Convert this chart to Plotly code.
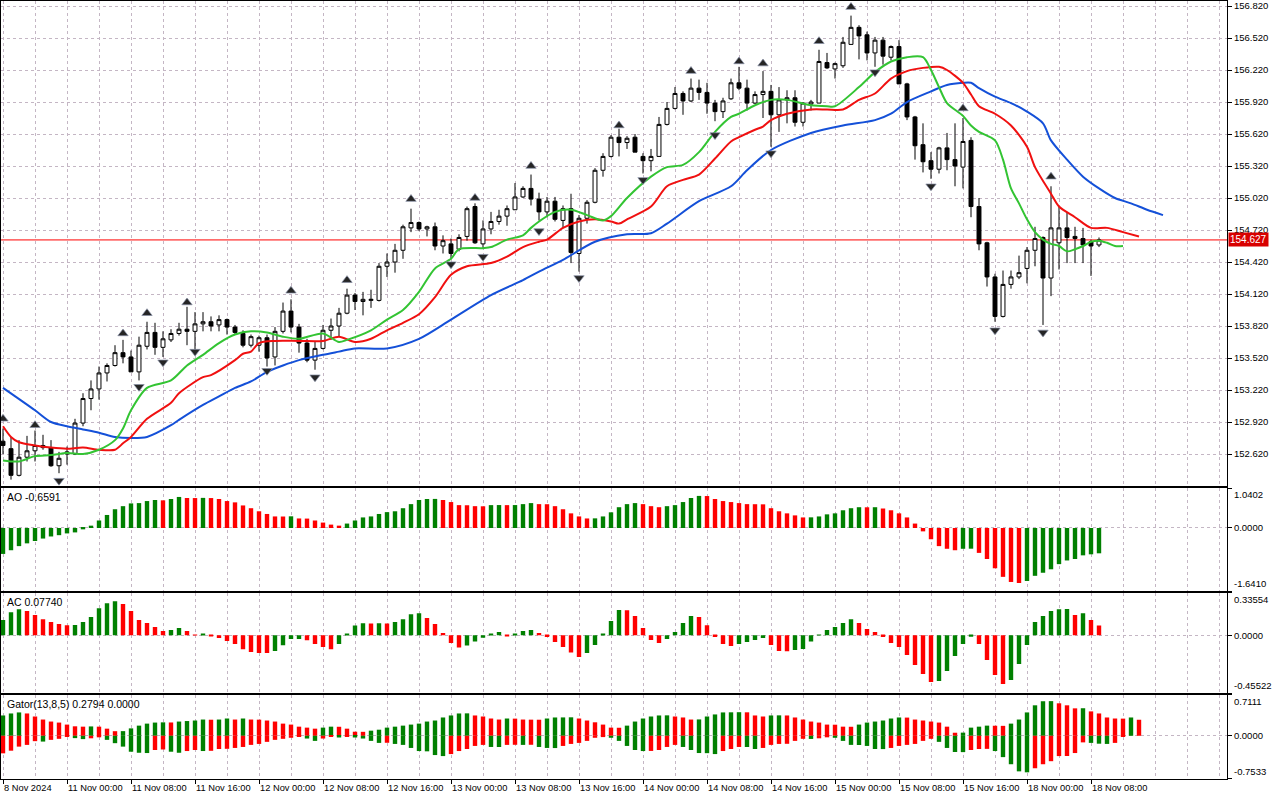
import plotly.graph_objects as go

# USDJPY-like H1 chart, 8 Nov 2024 16:00 .. 18 Nov 2024 09:00 (bar index 0..137)
open_ = [152.74, 152.67, 152.42, 152.59, 152.65, 152.68, 152.68, 152.51, 152.62, 152.62,
         152.91, 153.14, 153.23, 153.38, 153.45, 153.57, 153.53, 153.39, 153.63, 153.76,
         153.62, 153.69, 153.75, 153.79, 153.77, 153.84, 153.86, 153.83, 153.88, 153.81,
         153.75, 153.64, 153.64, 153.71, 153.53, 153.77, 153.96, 153.81, 153.66, 153.50,
         153.61, 153.78, 153.82, 153.94, 154.11, 154.05, 154.06, 154.06, 154.38, 154.42,
         154.53, 154.74, 154.79, 154.73, 154.75, 154.57, 154.59, 154.54, 154.66, 154.94,
         154.59, 154.73, 154.80, 154.85, 154.91, 155.03, 155.11, 155.01, 154.89, 154.99,
         154.81, 154.92, 154.50, 154.83, 154.98, 155.28, 155.41, 155.59, 155.54, 155.59,
         155.41, 155.37, 155.41, 155.71, 155.86, 156.00, 155.93, 156.05, 156.01, 155.91,
         155.83, 155.95, 156.10, 156.05, 155.91, 155.99, 156.02, 155.80, 155.94, 155.96,
         155.73, 155.90, 155.91, 156.29, 156.23, 156.26, 156.46, 156.62, 156.55, 156.38,
         156.50, 156.34, 156.44, 156.09, 155.78, 155.52, 155.37, 155.29, 155.49, 155.38,
         155.31, 155.56, 154.94, 154.60, 154.28, 153.91, 154.21, 154.28, 154.36, 154.53,
         154.65, 154.27, 154.60, 154.74, 154.66, 154.64, 154.61, 154.58]
high = [152.86, 152.78, 152.75, 152.79, 152.84, 152.80, 152.75, 152.64, 152.69, 152.95,
        153.19, 153.31, 153.44, 153.47, 153.64, 153.69, 153.59, 153.72, 153.86, 153.85,
        153.77, 153.79, 153.85, 154.00, 153.95, 153.95, 153.91, 153.92, 153.89, 153.83,
        153.78, 153.74, 153.73, 153.74, 153.81, 154.04, 154.07, 153.84, 153.70, 153.68,
        153.83, 153.89, 153.99, 154.17, 154.13, 154.14, 154.16, 154.41, 154.50, 154.59,
        154.77, 154.92, 154.80, 154.76, 154.79, 154.67, 154.64, 154.68, 154.94, 154.97,
        154.81, 154.89, 154.91, 154.95, 155.16, 155.13, 155.24, 155.07, 155.03, 155.03,
        154.95, 155.06, 154.86, 155.00, 155.30, 155.44, 155.61, 155.67, 155.60, 155.62,
        155.44, 155.48, 155.78, 155.92, 156.06, 156.02, 156.14, 156.13, 156.10, 155.94,
        155.96, 156.14, 156.25, 156.13, 156.02, 156.21, 156.08, 156.06, 156.03, 156.03,
        155.92, 155.94, 156.41, 156.38, 156.29, 156.53, 156.73, 156.64, 156.58, 156.53,
        156.53, 156.45, 156.50, 156.10, 155.79, 155.72, 155.45, 155.50, 155.63, 155.72,
        155.77, 155.59, 155.02, 154.61, 154.31, 154.34, 154.34, 154.48, 154.56, 154.75,
        154.66, 155.13, 154.94, 154.89, 154.75, 154.74, 154.63, 154.65]
low = [152.62, 152.38, 152.41, 152.55, 152.55, 152.66, 152.50, 152.44, 152.52, 152.61,
       152.88, 153.03, 153.13, 153.30, 153.44, 153.47, 153.39, 153.31, 153.60, 153.55,
       153.53, 153.67, 153.73, 153.64, 153.60, 153.77, 153.77, 153.77, 153.74, 153.74,
       153.62, 153.62, 153.58, 153.44, 153.45, 153.75, 153.76, 153.57, 153.48, 153.41,
       153.60, 153.69, 153.72, 153.93, 153.97, 153.92, 153.99, 154.05, 154.28, 154.32,
       154.45, 154.70, 154.71, 154.66, 154.53, 154.50, 154.45, 154.52, 154.62, 154.59,
       154.55, 154.68, 154.77, 154.76, 154.91, 155.02, 154.95, 154.81, 154.84, 154.80,
       154.74, 154.41, 154.33, 154.78, 154.97, 155.22, 155.40, 155.41, 155.48, 155.45,
       155.25, 155.27, 155.41, 155.70, 155.85, 155.80, 155.92, 155.94, 155.81, 155.74,
       155.77, 155.94, 156.03, 155.84, 155.90, 155.77, 155.50, 155.64, 155.72, 155.69,
       155.69, 155.84, 155.91, 156.23, 156.14, 156.24, 156.46, 156.32, 156.31, 156.25,
       156.27, 156.31, 156.09, 155.75, 155.38, 155.26, 155.20, 155.25, 155.28, 155.13,
       155.11, 154.84, 154.53, 154.19, 153.86, 153.90, 154.17, 154.26, 154.22, 154.38,
       153.83, 154.10, 154.35, 154.41, 154.41, 154.41, 154.29, 154.56]
close = [152.70, 152.42, 152.59, 152.65, 152.70, 152.70, 152.51, 152.58, 152.64, 152.91,
         153.14, 153.23, 153.38, 153.45, 153.57, 153.53, 153.39, 153.64, 153.76, 153.62,
         153.70, 153.75, 153.79, 153.77, 153.84, 153.86, 153.82, 153.88, 153.81, 153.76,
         153.64, 153.72, 153.71, 153.52, 153.77, 153.96, 153.81, 153.66, 153.50, 153.61,
         153.78, 153.82, 153.94, 154.11, 154.05, 154.07, 154.07, 154.38, 154.42, 154.53,
         154.75, 154.79, 154.73, 154.75, 154.57, 154.62, 154.50, 154.65, 154.92, 154.60,
         154.73, 154.80, 154.85, 154.92, 155.03, 155.11, 155.01, 154.89, 154.99, 154.82,
         154.92, 154.51, 154.83, 154.98, 155.28, 155.41, 155.59, 155.54, 155.58, 155.45,
         155.37, 155.41, 155.71, 155.86, 156.00, 155.93, 156.05, 156.01, 155.91, 155.83,
         155.93, 156.10, 156.05, 155.91, 155.99, 156.02, 155.80, 155.94, 155.96, 155.73,
         155.91, 155.92, 156.30, 156.24, 156.28, 156.48, 156.62, 156.54, 156.38, 156.50,
         156.35, 156.44, 156.09, 155.78, 155.51, 155.36, 155.29, 155.49, 155.38, 155.32,
         155.55, 154.94, 154.59, 154.28, 153.91, 154.21, 154.28, 154.32, 154.53, 154.64,
         154.27, 154.74, 154.74, 154.65, 154.64, 154.58, 154.57, 154.627]

# Alligator (13,8,5): jaws / teeth / lips, already shifted forward
jaw_x = [0, 4, 6, 8, 10, 12, 14, 16, 18, 21, 22, 25, 27, 29, 31, 33, 35, 37, 40, 42,
         44, 48, 52, 56, 61, 65, 67, 70, 74, 78, 81, 83, 87, 91, 93, 96, 101, 105, 109, 111,
         113, 116, 118, 120, 121, 122, 124, 126, 128, 130, 131, 133, 135, 137, 139, 141, 143, 145]
jaw = [153.24, 153.03, 152.92, 152.88, 152.85, 152.82, 152.78, 152.77, 152.78, 152.89,
       152.94, 153.08, 153.16, 153.24, 153.30, 153.39, 153.45, 153.50, 153.55, 153.58,
       153.61, 153.61, 153.70, 153.88, 154.11, 154.25, 154.33, 154.44, 154.61, 154.68,
       154.69, 154.78, 154.99, 155.13, 155.28, 155.47, 155.63, 155.70, 155.75, 155.81,
       155.92, 156.02, 156.08, 156.10, 156.10, 156.05, 155.97, 155.91, 155.83, 155.72,
       155.56, 155.38, 155.22, 155.11, 155.02, 154.97, 154.91, 154.86]
teeth_x = [0, 1, 2, 4, 6, 8, 10, 12, 14, 15, 16, 18, 21, 22, 25, 26, 29, 30, 31, 32,
           34, 37, 40, 42, 44, 46, 48, 50, 52, 54, 56, 58, 61, 63, 65, 67, 68, 70, 72, 74,
           76, 77, 78, 81, 83, 85, 87, 89, 91, 92, 94, 95, 96, 98, 101, 103, 105, 107, 109, 111,
           113, 115, 117, 118, 120, 121, 122, 124, 126, 128, 129, 131, 132, 134, 136, 138, 140, 142]
teeth = [152.88, 152.78, 152.73, 152.70, 152.68, 152.67, 152.68, 152.66, 152.66, 152.72,
         152.78, 152.95, 153.10, 153.19, 153.34, 153.36, 153.50, 153.56, 153.58, 153.66,
         153.68, 153.68, 153.68, 153.72, 153.67, 153.70, 153.78, 153.85, 153.93, 154.09,
         154.30, 154.38, 154.41, 154.47, 154.56, 154.61, 154.63, 154.74, 154.80, 154.82,
         154.80, 154.78, 154.82, 154.94, 155.13, 155.19, 155.24, 155.39, 155.55, 155.59,
         155.66, 155.69, 155.75, 155.81, 155.85, 155.85, 155.85, 155.94, 156.00, 156.14,
         156.21, 156.24, 156.25, 156.22, 156.10, 155.99, 155.88, 155.81, 155.70, 155.50,
         155.31, 155.06, 154.94, 154.84, 154.74, 154.74, 154.70, 154.66]
lips_x = [0, 2, 4, 6, 8, 10, 12, 14, 15, 16, 18, 21, 23, 25, 27, 29, 31, 33, 35, 37,
          40, 42, 43, 46, 48, 50, 52, 54, 56, 57, 60, 61, 63, 65, 66, 67, 69, 71, 73, 75,
          76, 78, 81, 83, 85, 87, 89, 91, 92, 94, 96, 98, 101, 103, 104, 107, 109, 111, 113, 115,
          116, 117, 118, 120, 121, 122, 124, 125, 126, 127, 128, 129, 130, 131, 132, 133, 134, 135,
          136, 137, 138, 139, 140]
lips = [152.56, 152.55, 152.60, 152.61, 152.63, 152.62, 152.66, 152.75, 152.86, 153.03,
        153.24, 153.31, 153.45, 153.55, 153.66, 153.74, 153.77, 153.76, 153.72, 153.70,
        153.75, 153.67, 153.69, 153.78, 153.88, 153.97, 154.14, 154.36, 154.45, 154.54,
        154.55, 154.56, 154.63, 154.67, 154.74, 154.80, 154.89, 154.91, 154.86, 154.81,
        154.85, 155.02, 155.22, 155.31, 155.33, 155.45, 155.64, 155.78, 155.81, 155.89,
        155.94, 155.94, 155.89, 155.88, 155.88, 156.06, 156.20, 156.30, 156.34, 156.34,
        156.22, 156.06, 155.91, 155.79, 155.70, 155.64, 155.56, 155.38, 155.11, 154.97,
        154.82, 154.70, 154.63, 154.59, 154.57, 154.52, 154.54, 154.57, 154.61, 154.62,
        154.60, 154.57, 154.57]

# Bill Williams fractals (arrow levels)
frac_up_x = [0, 4, 15, 18, 23, 36, 43, 51, 59, 66, 77, 86, 92, 95, 102, 106, 120, 131]
frac_up_y = [152.95, 152.89, 153.75, 153.94, 154.04, 154.15, 154.25, 155.01, 155.02, 155.32,
             155.70, 156.21, 156.30, 156.28, 156.49, 156.81, 155.86, 155.22]
frac_dn_x = [7, 17, 20, 24, 33, 39, 56, 60, 67, 72, 80, 89, 96, 109, 116, 124, 130]
frac_dn_y = [152.37, 153.25, 153.48, 153.58, 153.40, 153.34, 154.40, 154.47, 154.71, 154.27,
             155.19, 155.61, 155.44, 156.20, 155.13, 153.78, 153.76]

# Awesome Oscillator
ao = [-0.675, -0.579, -0.472, -0.400, -0.339, -0.275, -0.221, -0.187, -0.141, -0.115,
      -0.035, 0.061, 0.195, 0.339, 0.488, 0.568, 0.640, 0.648, 0.701, 0.728,
      0.720, 0.755, 0.808, 0.781, 0.779, 0.784, 0.779, 0.755, 0.701, 0.667,
      0.587, 0.515, 0.435, 0.365, 0.301, 0.299, 0.304, 0.248, 0.245, 0.195,
      0.141, 0.088, 0.061, 0.115, 0.195, 0.275, 0.301, 0.365, 0.413, 0.435,
      0.515, 0.621, 0.728, 0.755, 0.757, 0.728, 0.675, 0.595, 0.592, 0.568,
      0.565, 0.595, 0.597, 0.595, 0.597, 0.621, 0.648, 0.621, 0.619, 0.568,
      0.488, 0.381, 0.301, 0.248, 0.251, 0.301, 0.408, 0.541, 0.621, 0.648,
      0.621, 0.568, 0.541, 0.568, 0.595, 0.675, 0.781, 0.835, 0.832, 0.755,
      0.701, 0.675, 0.648, 0.621, 0.619, 0.616, 0.515, 0.435, 0.381, 0.328,
      0.275, 0.277, 0.301, 0.355, 0.381, 0.461, 0.515, 0.541, 0.539, 0.541,
      0.507, 0.461, 0.381, 0.275, 0.115, -0.088, -0.293, -0.472, -0.541, -0.579,
      -0.541, -0.539, -0.648, -0.808, -1.048, -1.272, -1.405, -1.432, -1.379, -1.245,
      -1.165, -1.075, -0.941, -0.845, -0.808, -0.712, -0.685, -0.6591]

# Accelerator Oscillator
ac = [0.120, 0.180, 0.205, 0.190, 0.159, 0.127, 0.104, 0.088, 0.080, 0.081,
      0.104, 0.143, 0.213, 0.252, 0.268, 0.245, 0.190, 0.120, 0.096, 0.065,
      0.034, 0.041, 0.057, 0.034, 0.002, 0.008, -0.004, -0.021, -0.045, -0.068,
      -0.109, -0.130, -0.138, -0.139, -0.123, -0.078, -0.029, -0.028, -0.039, -0.068,
      -0.091, -0.109, -0.068, 0.010, 0.078, 0.094, 0.093, 0.094, 0.093, 0.104,
      0.127, 0.166, 0.174, 0.135, 0.088, 0.018, -0.060, -0.096, -0.080, -0.049,
      -0.018, 0.008, 0.026, -0.004, 0.010, 0.034, 0.041, 0.018, -0.013, -0.052,
      -0.091, -0.135, -0.170, -0.138, -0.076, 0.010, 0.112, 0.198, 0.197, 0.151,
      0.057, -0.037, -0.060, -0.029, 0.026, 0.096, 0.151, 0.143, 0.080, -0.013,
      -0.068, -0.084, -0.068, -0.052, -0.037, -0.021, -0.076, -0.123, -0.124, -0.115,
      -0.107, -0.049, 0.002, 0.041, 0.065, 0.096, 0.127, 0.096, 0.049, 0.026,
      -0.013, -0.060, -0.091, -0.154, -0.232, -0.302, -0.365, -0.357, -0.279, -0.162,
      -0.068, -0.010, -0.068, -0.193, -0.310, -0.380, -0.349, -0.224, -0.076, 0.104,
      0.151, 0.190, 0.205, 0.207, 0.159, 0.174, 0.120, 0.0774]

# Gator Oscillator (13,8,5): upper |jaw-teeth|, lower -|teeth-lips|
gator_up = [0.354, 0.389, 0.407, 0.389, 0.336, 0.283, 0.248, 0.230, 0.195, 0.165,
            0.159, 0.163, 0.159, 0.124, 0.080, 0.081, 0.129, 0.177, 0.212, 0.230,
            0.234, 0.232, 0.248, 0.257, 0.266, 0.283, 0.280, 0.283, 0.301, 0.283,
            0.301, 0.283, 0.281, 0.266, 0.248, 0.212, 0.195, 0.159, 0.142, 0.124,
            0.142, 0.159, 0.157, 0.124, 0.071, 0.069, 0.089, 0.106, 0.142, 0.159,
            0.177, 0.195, 0.212, 0.248, 0.266, 0.319, 0.354, 0.389, 0.391, 0.354,
            0.336, 0.301, 0.283, 0.301, 0.299, 0.283, 0.281, 0.280, 0.301, 0.319,
            0.320, 0.322, 0.301, 0.266, 0.235, 0.195, 0.142, 0.140, 0.177, 0.248,
            0.301, 0.336, 0.354, 0.356, 0.336, 0.319, 0.283, 0.285, 0.336, 0.372,
            0.407, 0.409, 0.411, 0.409, 0.354, 0.336, 0.354, 0.356, 0.354, 0.319,
            0.283, 0.248, 0.230, 0.195, 0.193, 0.159, 0.157, 0.195, 0.230, 0.248,
            0.266, 0.301, 0.319, 0.317, 0.283, 0.266, 0.248, 0.230, 0.159, 0.053,
            0.055, 0.142, 0.159, 0.177, 0.175, 0.173, 0.212, 0.283, 0.407, 0.531,
            0.602, 0.604, 0.566, 0.531, 0.478, 0.480, 0.425, 0.389, 0.319, 0.301,
            0.299, 0.319, 0.2794]
gator_dn = [-0.306, -0.260, -0.189, -0.159, -0.094, -0.101, -0.071, -0.053, -0.012, -0.041,
            -0.058, -0.044, -0.027, -0.071, -0.129, -0.189, -0.278, -0.296, -0.301, -0.248,
            -0.239, -0.278, -0.296, -0.266, -0.248, -0.266, -0.262, -0.230, -0.227, -0.212,
            -0.195, -0.159, -0.142, -0.106, -0.071, -0.053, -0.035, -0.005, -0.048, -0.089,
            -0.048, -0.018, -0.030, -0.005, -0.030, -0.048, -0.089, -0.124, -0.122, -0.142,
            -0.159, -0.212, -0.266, -0.271, -0.336, -0.354, -0.319, -0.266, -0.230, -0.177,
            -0.159, -0.195, -0.196, -0.159, -0.157, -0.159, -0.157, -0.195, -0.212, -0.214,
            -0.177, -0.142, -0.124, -0.089, -0.035, -0.023, -0.035, -0.089, -0.177, -0.248,
            -0.266, -0.264, -0.248, -0.195, -0.159, -0.195, -0.248, -0.301, -0.303, -0.319,
            -0.266, -0.230, -0.195, -0.196, -0.230, -0.212, -0.159, -0.142, -0.140, -0.089,
            -0.053, -0.055, -0.044, -0.027, -0.035, -0.089, -0.159, -0.161, -0.177, -0.230,
            -0.232, -0.212, -0.177, -0.159, -0.142, -0.089, -0.053, -0.106, -0.212, -0.283,
            -0.285, -0.248, -0.230, -0.228, -0.266, -0.372, -0.496, -0.620, -0.637, -0.566,
            -0.496, -0.443, -0.354, -0.352, -0.301, -0.115, -0.124, -0.138, -0.142, -0.124,
            -0.009, 0.0, 0.0]

tick_bars = [0, 8, 16, 24, 32, 40, 48, 56, 64, 72, 80, 88, 96, 104, 112, 120, 128, 136]
tick_text = ["8 Nov 2024", "11 Nov 00:00", "11 Nov 08:00", "11 Nov 16:00",
             "12 Nov 00:00", "12 Nov 08:00", "12 Nov 16:00", "13 Nov 00:00",
             "13 Nov 08:00", "13 Nov 16:00", "14 Nov 00:00", "14 Nov 08:00",
             "14 Nov 16:00", "15 Nov 00:00", "15 Nov 08:00", "15 Nov 16:00",
             "18 Nov 00:00", "18 Nov 08:00"]
price_ticks = [152.620, 152.920, 153.220, 153.520, 153.820, 154.120, 154.420, 154.720,
               155.020, 155.320, 155.620, 155.920, 156.220, 156.520, 156.820]

ao_range = [-1.6410, 1.0402]
ac_range = [-0.45522, 0.33554]
gator_range = [-0.7533, 0.7111]
price_range = [152.320, 156.867]

GREEN = "#008000"
RED = "#ff0000"
GRID = "#c4b6c4"
FONT = "Liberation Sans"


def hist_colors(vals, first):
    cols = [first]
    for prev, cur in zip(vals, vals[1:]):
        cols.append(GREEN if cur > prev else RED)
    return cols


bars = list(range(len(close)))

fig = go.Figure()

fig.add_trace(go.Candlestick(
    x=bars, open=open_, high=high, low=low, close=close,
    increasing=dict(fillcolor="white", line=dict(color="black", width=1)),
    decreasing=dict(fillcolor="black", line=dict(color="black", width=1)),
    whiskerwidth=0, xaxis="x", yaxis="y", hoverinfo="skip"))

for xs, ys, col in [(jaw_x, jaw, "#1450d8"), (teeth_x, teeth, "#f01010"), (lips_x, lips, "#33c433")]:
    fig.add_trace(go.Scatter(x=xs, y=ys, mode="lines",
                             line=dict(color=col, width=2, shape="spline", smoothing=0.8),
                             xaxis="x", yaxis="y", hoverinfo="skip"))

fig.add_trace(go.Scatter(x=frac_up_x, y=frac_up_y, mode="markers",
                         marker=dict(symbol="triangle-up", size=9, color="#252525",
                                     line=dict(color="#8890a8", width=0.7)),
                         xaxis="x", yaxis="y", hoverinfo="skip"))
fig.add_trace(go.Scatter(x=frac_dn_x, y=frac_dn_y, mode="markers",
                         marker=dict(symbol="triangle-down", size=9, color="#252525",
                                     line=dict(color="#8890a8", width=0.7)),
                         xaxis="x", yaxis="y", hoverinfo="skip"))

fig.add_trace(go.Bar(x=bars, y=ao, width=0.55, marker=dict(color=hist_colors(ao, GREEN), line_width=0),
                     xaxis="x2", yaxis="y2", hoverinfo="skip"))
fig.add_trace(go.Bar(x=bars, y=ac, width=0.55, marker=dict(color=hist_colors(ac, GREEN), line_width=0),
                     xaxis="x3", yaxis="y3", hoverinfo="skip"))

gbars = list(range(len(gator_up)))
fig.add_trace(go.Bar(x=gbars, y=gator_up, width=0.55,
                     marker=dict(color=hist_colors(gator_up, GREEN), line_width=0),
                     xaxis="x4", yaxis="y4", hoverinfo="skip"))
fig.add_trace(go.Bar(x=gbars, y=gator_dn, width=0.55,
                     marker=dict(color=hist_colors([abs(v) for v in gator_dn], RED), line_width=0),
                     xaxis="x4", yaxis="y4", hoverinfo="skip"))

xrange = [-0.25, 153.0]
xcommon = dict(range=xrange, showline=True, mirror=True, linecolor="black", linewidth=1,
               zeroline=False, tickmode="array", tickvals=tick_bars, automargin=False,
               showgrid=True, gridcolor=GRID, griddash="3px,3px", gridwidth=1,
               minor=dict(tickmode="linear", tick0=0, dtick=4, showgrid=True,
                          gridcolor=GRID, griddash="3px,3px", gridwidth=1, ticks=""),
               fixedrange=True)
ycommon = dict(side="right", showline=True, mirror=True, linecolor="black", linewidth=1,
               zeroline=False, showgrid=True, gridcolor=GRID, griddash="3px,3px", gridwidth=1,
               ticks="outside", ticklen=4, tickcolor="black", automargin=False,
               tickfont=dict(family=FONT, size=9.5, color="black"), fixedrange=True)

domains = {"y": [0.3766, 1.0], "y2": [0.2416, 0.3740], "y3": [0.1099, 0.2397], "y4": [0.0, 0.1080]}

fig.update_layout(
    width=1280, height=800,
    margin=dict(l=1, r=53, t=1, b=21, autoexpand=False),
    paper_bgcolor="white", plot_bgcolor="white",
    showlegend=False, barmode="overlay",
    font=dict(family=FONT, size=9.5, color="black"),
    xaxis=dict(**xcommon, anchor="y", showticklabels=False, ticks="", rangeslider=dict(visible=False)),
    xaxis2=dict(**xcommon, anchor="y2", showticklabels=False, ticks="", matches="x"),
    xaxis3=dict(**xcommon, anchor="y3", showticklabels=False, ticks="", matches="x"),
    xaxis4=dict(**xcommon, anchor="y4", ticktext=tick_text, ticks="outside", ticklen=4,
                tickcolor="black", ticklabelposition="outside right", tickangle=0,
                tickfont=dict(family=FONT, size=9.3, color="black"), matches="x"),
    yaxis=dict(**ycommon, anchor="x", domain=domains["y"], range=price_range,
               tickmode="array", tickvals=price_ticks, ticktext=[f"{v:.3f}" for v in price_ticks]),
    yaxis2=dict(**ycommon, anchor="x2", domain=domains["y2"], range=ao_range,
                tickmode="array", tickvals=[ao_range[0], 0, ao_range[1]], ticktext=["", "0.0000", ""]),
    yaxis3=dict(**ycommon, anchor="x3", domain=domains["y3"], range=ac_range,
                tickmode="array", tickvals=[ac_range[0], 0, ac_range[1]], ticktext=["", "0.0000", ""]),
    yaxis4=dict(**ycommon, anchor="x4", domain=domains["y4"], range=gator_range,
                tickmode="array", tickvals=[gator_range[0], 0, gator_range[1]], ticktext=["", "0.0000", ""]),
)

# current price line and label
last = close[-1]
fig.add_shape(type="line", xref="paper", x0=0, x1=1, yref="y", y0=last, y1=last,
              line=dict(color="#ff0000", width=1), layer="below")
fig.add_annotation(xref="paper", x=1, xanchor="left", xshift=1, yref="y", y=last,
                   text=f"{last:.3f}", showarrow=False, bgcolor="#d80000",
                   font=dict(family=FONT, size=10, color="white"), borderpad=1)

# sub-window scale extremes
for yref, rng, fmt in [("y2", ao_range, "{:.4f}"), ("y3", ac_range, "{:.5f}"), ("y4", gator_range, "{:.4f}")]:
    fig.add_annotation(xref="paper", x=1, xanchor="left", xshift=5, yref=yref, y=rng[1],
                       yanchor="top", yshift=1, text=fmt.format(rng[1]), showarrow=False,
                       font=dict(family=FONT, size=9.5, color="black"))
    fig.add_annotation(xref="paper", x=1, xanchor="left", xshift=5, yref=yref, y=rng[0],
                       yanchor="bottom", text=fmt.format(rng[0]), showarrow=False,
                       font=dict(family=FONT, size=9.5, color="black"))

# indicator window titles
titles = [("y2", f"AO {ao[-1]:.4f}"), ("y3", f"AC {ac[-1]:.5f}"),
          ("y4", f"Gator(13,8,5) {gator_up[-1]:.4f} {abs(gator_dn[-1]):.4f}")]
for yref, txt in titles:
    fig.add_annotation(xref="paper", x=0, xanchor="left", xshift=4,
                       yref="paper", y=domains[yref][1], yanchor="top", yshift=-1,
                       text=txt, showarrow=False, font=dict(family=FONT, size=10.5, color="black"))

# the page must not add its own 8px body margin around the figure
fig.write_html("out.html", config={"displayModeBar": False},
               post_script="document.body.style.margin='0px';")
